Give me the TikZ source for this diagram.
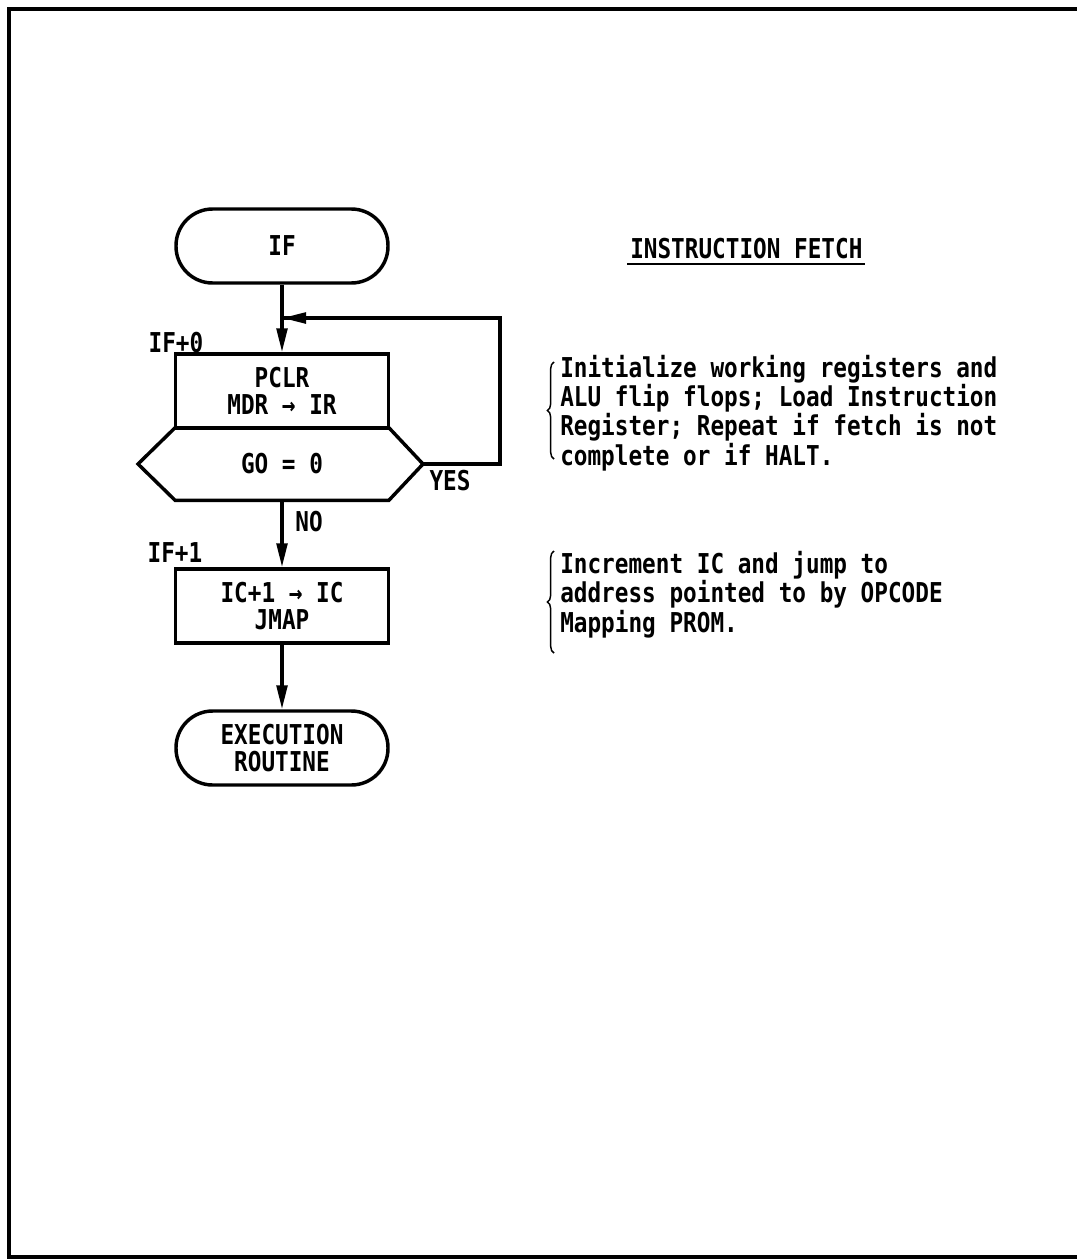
\documentclass[tikz,border=0pt]{standalone}
\usepackage{fontspec}
\usetikzlibrary{arrows.meta,decorations.pathreplacing}
\newfontfamily\lgfont[FakeStretch=0.83]{DejaVu Sans Mono Bold}
\begin{document}
\begin{tikzpicture}[x=0.75pt,y=-0.75pt,
  every node/.style={font=\lgfont\fontsize{20.5}{20.25}\selectfont, inner sep=0pt},
  term/.style={draw, line width=2.6pt, rounded corners=27.5pt, minimum width=159pt, minimum height=55.5pt, align=center},
  proc/.style={draw, line width=2.6pt, minimum width=160pt, minimum height=55.5pt, align=center},
  flow/.style={line width=2.6pt, -{Triangle[length=18pt,width=8pt]}},
  plain/.style={line width=2.6pt},
  lbl/.style={},
  desc/.style={align=left, anchor=base west, font=\lgfont\fontsize{20.5}{21.9}\selectfont},
  bracebar/.style={decorate, decoration={brace, amplitude=5pt}, line width=1.1pt}
]
\useasboundingbox (0,0) rectangle (1076,1260);
% frame
\draw[line width=3pt] (1080,9) -- (9,9) -- (9,1257) -- (1080,1257);

% nodes
\node[term] (if) at (282,246) {IF};
\node[proc] (pclr) at (282,391) {PCLR\\MDR → IR};
\node[minimum width=160pt, minimum height=54pt] (go) at (282,464) {GO = 0};
\draw[plain, line join=miter] (go.north west) -- (go.north east) -- (423,464) coordinate (gor) -- (go.south east) -- (go.south west) -- (138,464) -- cycle;
\node[proc] (ic) at (282,606) {IC+1 → IC\\JMAP};
\node[term] (exec) at (282,748) {EXECUTION\\ROUTINE};

% connectors
\coordinate (join) at (282,318);
\coordinate (loopa) at (500,464);
\coordinate (loopb) at (500,318);
\draw[flow] (if.south) -- (pclr.north);
\draw[plain] (gor) -- (loopa) -- (loopb) -- (join);
\draw[flow] (loopb) -- (join);
\draw[flow] (go.south) -- (ic.north);
\draw[flow] (ic.south) -- (exec.north);

% labels
\node[lbl] (l0) at (176,343) {IF+0};
\node[lbl] (yes) at (450,481) {YES};
\node[lbl] (no) at (309,522) {NO};
\node[lbl] (l1) at (175,553) {IF+1};

% title
\node[anchor=base west] (title) at (630,258) {INSTRUCTION FETCH};
\draw[line width=1.6pt] ([xshift=-2]title.west |- 0,264) -- ([xshift=2]title.east |- 0,264);

% descriptions
\node[desc] (d1) at (560,465) {Initialize working registers and\\ALU flip flops; Load Instruction\\Register; Repeat if fetch is not\\complete or if HALT.};
\coordinate (b1a) at (554,459);
\coordinate (b1b) at (554,362);
\draw[bracebar] (b1a) -- (b1b);

\node[desc] (d2) at (560,632) {Increment IC and jump to\\address pointed to by OPCODE\\Mapping PROM.};
\coordinate (b2a) at (554,653);
\coordinate (b2b) at (554,551);
\draw[bracebar] (b2a) -- (b2b);
\end{tikzpicture}
\end{document}
